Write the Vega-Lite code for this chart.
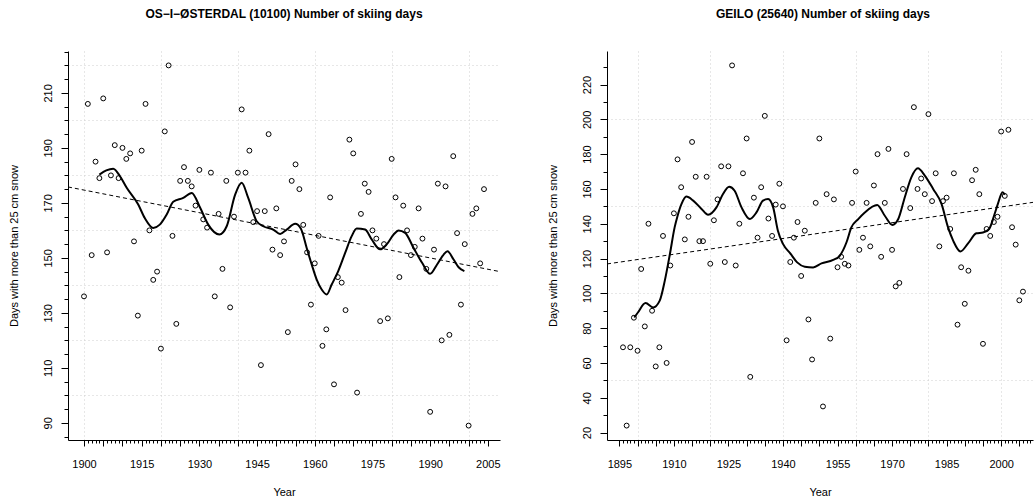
{
  "$schema": "https://vega.github.io/schema/vega-lite/v6.json",
  "padding": {"left": 8, "top": 8, "right": 0, "bottom": 0},
  "background": "white",
  "config": {
    "view": {"stroke": null},
    "axis": {
      "labelFont": "Liberation Sans", "titleFont": "Liberation Sans",
      "labelFontSize": 11, "titleFontSize": 11, "labelColor": "black", "titleColor": "black",
      "titleFontWeight": "normal", "domainColor": "black", "tickColor": "black",
      "gridColor": "#cfcfcf", "gridDash": [1, 3], "gridWidth": 1,
      "labelOverlap": false, "labelFlush": false, "labelBound": false
    },
    "title": {"font": "Liberation Sans", "fontSize": 12, "fontWeight": "bold", "color": "black", "offset": 30, "anchor": "middle", "frame": "group"}
  },
  "datasets": {
    "os_pts": [
      {"year":1900,"days":136},{"year":1901,"days":206},{"year":1902,"days":151},{"year":1903,"days":185},{"year":1904,"days":179},
      {"year":1905,"days":208},{"year":1906,"days":152},{"year":1907,"days":180},{"year":1908,"days":191},{"year":1909,"days":179},
      {"year":1910,"days":190},{"year":1911,"days":186},{"year":1912,"days":188},{"year":1913,"days":156},{"year":1914,"days":129},
      {"year":1915,"days":189},{"year":1916,"days":206},{"year":1917,"days":160},{"year":1918,"days":142},{"year":1919,"days":145},
      {"year":1920,"days":117},{"year":1921,"days":196},{"year":1922,"days":220},{"year":1923,"days":158},{"year":1924,"days":126},
      {"year":1925,"days":178},{"year":1926,"days":183},{"year":1927,"days":178},{"year":1928,"days":176},{"year":1929,"days":169},
      {"year":1930,"days":182},{"year":1931,"days":164},{"year":1932,"days":161},{"year":1933,"days":181},{"year":1934,"days":136},
      {"year":1935,"days":166},{"year":1936,"days":146},{"year":1937,"days":178},{"year":1938,"days":132},{"year":1939,"days":165},
      {"year":1940,"days":181},{"year":1941,"days":204},{"year":1942,"days":181},{"year":1943,"days":189},{"year":1944,"days":163},
      {"year":1945,"days":167},{"year":1946,"days":111},{"year":1947,"days":167},{"year":1948,"days":195},{"year":1949,"days":153},
      {"year":1950,"days":168},{"year":1951,"days":151},{"year":1952,"days":156},{"year":1953,"days":123},{"year":1954,"days":178},
      {"year":1955,"days":184},{"year":1956,"days":175},{"year":1957,"days":162},{"year":1958,"days":152},{"year":1959,"days":133},
      {"year":1960,"days":148},{"year":1961,"days":158},{"year":1962,"days":118},{"year":1963,"days":124},{"year":1964,"days":172},
      {"year":1965,"days":104},{"year":1966,"days":143},{"year":1967,"days":141},{"year":1968,"days":131},{"year":1969,"days":193},
      {"year":1970,"days":188},{"year":1971,"days":101},{"year":1972,"days":166},{"year":1973,"days":177},{"year":1974,"days":174},
      {"year":1975,"days":160},{"year":1976,"days":157},{"year":1977,"days":127},{"year":1978,"days":155},{"year":1979,"days":128},
      {"year":1980,"days":186},{"year":1981,"days":172},{"year":1982,"days":143},{"year":1983,"days":169},{"year":1984,"days":160},
      {"year":1985,"days":151},{"year":1986,"days":154},{"year":1987,"days":168},{"year":1988,"days":157},{"year":1989,"days":146},
      {"year":1990,"days":94},{"year":1991,"days":153},{"year":1992,"days":177},{"year":1993,"days":120},{"year":1994,"days":176},
      {"year":1995,"days":122},{"year":1996,"days":187},{"year":1997,"days":159},{"year":1998,"days":133},{"year":1999,"days":155},
      {"year":2000,"days":89},{"year":2001,"days":166},{"year":2002,"days":168},{"year":2003,"days":148},{"year":2004,"days":175}
    ],
    "os_smooth": [
      {"year":1904.0,"days":180.3},{"year":1905.8,"days":181.8},{"year":1907.6,"days":182.4},{"year":1909.4,"days":179.6},{"year":1911.1,"days":175.5},
      {"year":1914.1,"days":169.4},{"year":1915.8,"days":164.5},{"year":1918.0,"days":160.9},{"year":1919.7,"days":162.1},{"year":1921.5,"days":165.8},
      {"year":1923.2,"days":170.4},{"year":1925.8,"days":171.8},{"year":1928.0,"days":173.6},{"year":1930.2,"days":168.2},{"year":1932.3,"days":162.1},
      {"year":1935.2,"days":158.5},{"year":1937.1,"days":161.5},{"year":1939.3,"days":173.0},{"year":1941.0,"days":177.3},{"year":1942.7,"days":171.8},
      {"year":1944.9,"days":163.3},{"year":1946.6,"days":161.5},{"year":1949.2,"days":160.3},{"year":1951.0,"days":158.7},{"year":1952.7,"days":160.3},
      {"year":1954.9,"days":162.4},{"year":1956.4,"days":160.6},{"year":1957.9,"days":153.6},{"year":1959.2,"days":147.6},{"year":1960.5,"days":142.1},
      {"year":1961.8,"days":138.5},{"year":1963.1,"days":136.7},{"year":1964.4,"days":140.3},{"year":1966.1,"days":145.2},{"year":1967.9,"days":151.8},
      {"year":1969.6,"days":157.9},{"year":1970.9,"days":160.7},{"year":1973.1,"days":160.3},{"year":1974.8,"days":156.7},{"year":1977.0,"days":153.1},
      {"year":1978.7,"days":154.9},{"year":1980.5,"days":158.5},{"year":1981.8,"days":160.0},{"year":1983.5,"days":159.1},{"year":1985.7,"days":153.6},
      {"year":1987.9,"days":148.2},{"year":1990.0,"days":144.2},{"year":1991.8,"days":147.6},{"year":1993.5,"days":151.2},{"year":1994.5,"days":152.4},
      {"year":1996.1,"days":149.4},{"year":1997.4,"days":146.6},{"year":1998.9,"days":145.2}
    ],
    "os_trend": [{"year":1895.84,"days":175.8},{"year":2008.16,"days":145.0}],
    "ge_pts": [
      {"year":1896,"days":69},{"year":1897,"days":24},{"year":1898,"days":69},{"year":1899,"days":86},{"year":1900,"days":67},
      {"year":1901,"days":114},{"year":1902,"days":81},{"year":1903,"days":140},{"year":1904,"days":90},{"year":1905,"days":58},
      {"year":1906,"days":69},{"year":1907,"days":133},{"year":1908,"days":60},{"year":1909,"days":116},{"year":1910,"days":146},
      {"year":1911,"days":177},{"year":1912,"days":161},{"year":1913,"days":131},{"year":1914,"days":144},{"year":1915,"days":187},
      {"year":1916,"days":167},{"year":1917,"days":130},{"year":1918,"days":130},{"year":1919,"days":167},{"year":1920,"days":117},
      {"year":1921,"days":142},{"year":1922,"days":154},{"year":1923,"days":173},{"year":1924,"days":118},{"year":1925,"days":173},
      {"year":1926,"days":231},{"year":1927,"days":116},{"year":1928,"days":140},{"year":1929,"days":169},{"year":1930,"days":189},
      {"year":1931,"days":52},{"year":1932,"days":155},{"year":1933,"days":132},{"year":1934,"days":161},{"year":1935,"days":202},
      {"year":1936,"days":143},{"year":1937,"days":133},{"year":1938,"days":151},{"year":1939,"days":163},{"year":1940,"days":150},
      {"year":1941,"days":73},{"year":1942,"days":118},{"year":1943,"days":132},{"year":1944,"days":141},{"year":1945,"days":110},
      {"year":1946,"days":136},{"year":1947,"days":85},{"year":1948,"days":62},{"year":1949,"days":152},{"year":1950,"days":189},
      {"year":1951,"days":35},{"year":1952,"days":157},{"year":1953,"days":74},{"year":1954,"days":154},{"year":1955,"days":115},
      {"year":1956,"days":121},{"year":1957,"days":117},{"year":1958,"days":116},{"year":1959,"days":152},{"year":1960,"days":170},
      {"year":1961,"days":125},{"year":1962,"days":132},{"year":1963,"days":152},{"year":1964,"days":127},{"year":1965,"days":162},
      {"year":1966,"days":180},{"year":1967,"days":121},{"year":1968,"days":152},{"year":1969,"days":183},{"year":1970,"days":125},
      {"year":1971,"days":104},{"year":1972,"days":106},{"year":1973,"days":160},{"year":1974,"days":180},{"year":1975,"days":149},
      {"year":1976,"days":207},{"year":1977,"days":160},{"year":1978,"days":166},{"year":1979,"days":157},{"year":1980,"days":203},
      {"year":1981,"days":153},{"year":1982,"days":169},{"year":1983,"days":127},{"year":1984,"days":153},{"year":1985,"days":155},
      {"year":1986,"days":137},{"year":1987,"days":169},{"year":1988,"days":82},{"year":1989,"days":115},{"year":1990,"days":94},
      {"year":1991,"days":113},{"year":1992,"days":165},{"year":1993,"days":171},{"year":1994,"days":157},{"year":1995,"days":71},
      {"year":1996,"days":137},{"year":1997,"days":133},{"year":1998,"days":141},{"year":1999,"days":144},{"year":2000,"days":193},
      {"year":2001,"days":156},{"year":2002,"days":194},{"year":2003,"days":138},{"year":2004,"days":128},{"year":2005,"days":96},
      {"year":2006,"days":101}
    ],
    "ge_smooth": [
      {"year":1899.1,"days":86.1},{"year":1900.1,"days":89.0},{"year":1902.2,"days":94.4},{"year":1904.3,"days":91.9},{"year":1906.1,"days":95.8},
      {"year":1907.5,"days":107.3},{"year":1908.9,"days":122.6},{"year":1910.2,"days":137.9},{"year":1911.0,"days":144.5},{"year":1912.1,"days":151.4},
      {"year":1913.4,"days":155.6},{"year":1915.3,"days":153.3},{"year":1917.6,"days":148.5},{"year":1919.4,"days":145.2},{"year":1921.7,"days":149.4},
      {"year":1923.5,"days":157.1},{"year":1925.2,"days":161.3},{"year":1926.7,"days":159.0},{"year":1928.6,"days":149.4},{"year":1930.9,"days":142.7},
      {"year":1932.7,"days":146.5},{"year":1934.5,"days":153.3},{"year":1935.9,"days":154.2},{"year":1937.3,"days":149.4},{"year":1938.6,"days":136.0},
      {"year":1940.0,"days":128.4},{"year":1942.0,"days":123.0},{"year":1943.9,"days":117.8},{"year":1946.0,"days":115.3},{"year":1948.3,"days":114.9},
      {"year":1950.6,"days":117.2},{"year":1953.8,"days":119.2},{"year":1955.6,"days":121.6},{"year":1957.5,"days":129.5},{"year":1958.8,"days":137.9},
      {"year":1960.7,"days":142.7},{"year":1962.5,"days":146.5},{"year":1965.9,"days":150.8},{"year":1968.0,"days":144.6},{"year":1970.1,"days":139.3},
      {"year":1971.7,"days":142.7},{"year":1973.5,"days":155.2},{"year":1975.3,"days":166.7},{"year":1977.1,"days":171.9},{"year":1979.0,"days":167.7},
      {"year":1981.3,"days":160.0},{"year":1983.6,"days":151.4},{"year":1985.4,"days":137.9},{"year":1986.8,"days":130.3},{"year":1988.8,"days":124.1},
      {"year":1990.9,"days":128.7},{"year":1993.2,"days":134.5},{"year":1995.0,"days":135.0},{"year":1996.7,"days":137.0},{"year":1998.2,"days":145.6},
      {"year":1999.1,"days":151.4},{"year":2000.4,"days":158.1},{"year":2001.0,"days":156.7}
    ],
    "ge_trend": [{"year":1891.6,"days":116.9},{"year":2008.76,"days":152.3}]
  },
  "hconcat": [
    {
      "width": 432, "height": 389,
      "title": {"text": "OS−I−ØSTERDAL (10100) Number of skiing days"},
      "resolve": {"axis": {"x": "independent", "y": "independent"}},
      "layer": [
        {
          "data": {"name": "os_trend"},
          "mark": {"type": "line", "color": "black", "strokeWidth": 1, "strokeDash": [4, 3]},
          "encoding": {
            "x": {"field": "year", "type": "quantitative", "scale": {"domain": [1895.84, 2008.16], "nice": false, "zero": false},
              "axis": {"orient": "bottom", "values": [1900,1920,1940,1960,1980,2000], "grid": true, "ticks": false, "labels": false, "domain": false, "title": null}},
            "y": {"field": "days", "type": "quantitative", "scale": {"domain": [83.76, 225.24], "nice": false, "zero": false},
              "axis": {"orient": "left", "values": [100,120,140,160,180,200,220], "grid": true, "ticks": false, "labels": false, "domain": false, "title": null}}
          }
        },
        {
          "data": {"name": "os_smooth"},
          "mark": {"type": "line", "color": "black", "strokeWidth": 2, "interpolate": "monotone"},
          "encoding": {
            "x": {"field": "year", "type": "quantitative", "scale": {"domain": [1895.84, 2008.16], "nice": false, "zero": false},
              "axis": {"orient": "bottom", "values": [1900,1901,1902,1903,1904,1905,1906,1907,1908,1909,1910,1911,1912,1913,1914,1915,1916,1917,1918,1919,1920,1921,1922,1923,1924,1925,1926,1927,1928,1929,1930,1931,1932,1933,1934,1935,1936,1937,1938,1939,1940,1941,1942,1943,1944,1945,1946,1947,1948,1949,1950,1951,1952,1953,1954,1955,1956,1957,1958,1959,1960,1961,1962,1963,1964,1965,1966,1967,1968,1969,1970,1971,1972,1973,1974,1975,1976,1977,1978,1979,1980,1981,1982,1983,1984,1985,1986,1987,1988,1989,1990,1991,1992,1993,1994,1995,1996,1997,1998,1999,2000,2001,2002,2003,2004,2005], "tickSize": 3, "labels": false, "domain": false, "grid": false, "title": null}},
            "y": {"field": "days", "type": "quantitative", "scale": {"domain": [83.76, 225.24], "nice": false, "zero": false},
              "axis": {"orient": "left", "values": [85,90,95,100,105,110,115,120,125,130,135,140,145,150,155,160,165,170,175,180,185,190,195,200,205,210,215,220,225], "tickSize": 4, "labels": false, "domain": false, "grid": false, "title": null}}
          }
        },
        {
          "data": {"name": "os_pts"},
          "mark": {"type": "point", "shape": "circle", "filled": false, "color": "black", "strokeWidth": 1, "size": 24, "opacity": 1},
          "encoding": {
            "x": {"field": "year", "type": "quantitative", "scale": {"domain": [1895.84, 2008.16], "nice": false, "zero": false},
              "axis": {"orient": "bottom", "values": [1900,1905,1910,1915,1920,1925,1930,1935,1940,1945,1950,1955,1960,1965,1970,1975,1980,1985,1990,1995,2000,2005], "tickSize": 6, "labelExpr": "(datum.value - 1900) % 15 == 0 ? '' + datum.value : ''", "labelPadding": 12, "title": "Year", "titlePadding": 17, "grid": false}},
            "y": {"field": "days", "type": "quantitative", "scale": {"domain": [83.76, 225.24], "nice": false, "zero": false},
              "axis": {"orient": "left", "values": [90,110,130,150,170,190,210], "tickSize": 7, "labelAngle": 270, "labelAlign": "center", "labelBaseline": "bottom", "labelPadding": 8, "format": "d", "title": "Days with more than 25 cm snow", "titlePadding": 23, "grid": false}}
          }
        }
      ]
    },
    {
      "width": 426, "height": 389,
      "title": {"text": "GEILO (25640) Number of skiing days", "dx": 3},
      "resolve": {"axis": {"x": "independent", "y": "independent"}},
      "layer": [
        {
          "data": {"name": "ge_trend"},
          "mark": {"type": "line", "color": "black", "strokeWidth": 1, "strokeDash": [4, 3]},
          "encoding": {
            "x": {"field": "year", "type": "quantitative", "scale": {"domain": [1891.6, 2008.76], "nice": false, "zero": false},
              "axis": {"orient": "bottom", "values": [1900,1920,1940,1960,1980,2000], "grid": true, "ticks": false, "labels": false, "domain": false, "title": null}},
            "y": {"field": "days", "type": "quantitative", "scale": {"domain": [15.72, 239.28], "nice": false, "zero": false},
              "axis": {"orient": "left", "values": [50,100,150,200], "grid": true, "ticks": false, "labels": false, "domain": false, "title": null}}
          }
        },
        {
          "data": {"name": "ge_smooth"},
          "mark": {"type": "line", "color": "black", "strokeWidth": 2, "interpolate": "monotone"},
          "encoding": {
            "x": {"field": "year", "type": "quantitative", "scale": {"domain": [1891.6, 2008.76], "nice": false, "zero": false},
              "axis": {"orient": "bottom", "values": [1895,1896,1897,1898,1899,1900,1901,1902,1903,1904,1905,1906,1907,1908,1909,1910,1911,1912,1913,1914,1915,1916,1917,1918,1919,1920,1921,1922,1923,1924,1925,1926,1927,1928,1929,1930,1931,1932,1933,1934,1935,1936,1937,1938,1939,1940,1941,1942,1943,1944,1945,1946,1947,1948,1949,1950,1951,1952,1953,1954,1955,1956,1957,1958,1959,1960,1961,1962,1963,1964,1965,1966,1967,1968,1969,1970,1971,1972,1973,1974,1975,1976,1977,1978,1979,1980,1981,1982,1983,1984,1985,1986,1987,1988,1989,1990,1991,1992,1993,1994,1995,1996,1997,1998,1999,2000,2001,2002,2003,2004,2005,2006,2007,2008], "tickSize": 3, "labels": false, "domain": false, "grid": false, "title": null}},
            "y": {"field": "days", "type": "quantitative", "scale": {"domain": [15.72, 239.28], "nice": false, "zero": false},
              "axis": {"orient": "left", "values": [20,30,40,50,60,70,80,90,100,110,120,130,140,150,160,170,180,190,200,210,220,230], "tickSize": 4, "labels": false, "domain": false, "grid": false, "title": null}}
          }
        },
        {
          "data": {"name": "ge_pts"},
          "mark": {"type": "point", "shape": "circle", "filled": false, "color": "black", "strokeWidth": 1, "size": 24, "opacity": 1},
          "encoding": {
            "x": {"field": "year", "type": "quantitative", "scale": {"domain": [1891.6, 2008.76], "nice": false, "zero": false},
              "axis": {"orient": "bottom", "values": [1895,1900,1905,1910,1915,1920,1925,1930,1935,1940,1945,1950,1955,1960,1965,1970,1975,1980,1985,1990,1995,2000,2005], "tickSize": 6, "labelExpr": "(datum.value - 1895) % 15 == 0 ? '' + datum.value : ''", "labelPadding": 12, "title": "Year", "titlePadding": 17, "grid": false}},
            "y": {"field": "days", "type": "quantitative", "scale": {"domain": [15.72, 239.28], "nice": false, "zero": false},
              "axis": {"orient": "left", "values": [20,40,60,80,100,120,140,160,180,200,220], "tickSize": 7, "labelAngle": 270, "labelAlign": "center", "labelBaseline": "bottom", "labelPadding": 8, "format": "d", "title": "Days with more than 25 cm snow", "titlePadding": 23, "grid": false}}
          }
        }
      ]
    }
  ],
  "spacing": 107,
  "bounds": "flush"
}
